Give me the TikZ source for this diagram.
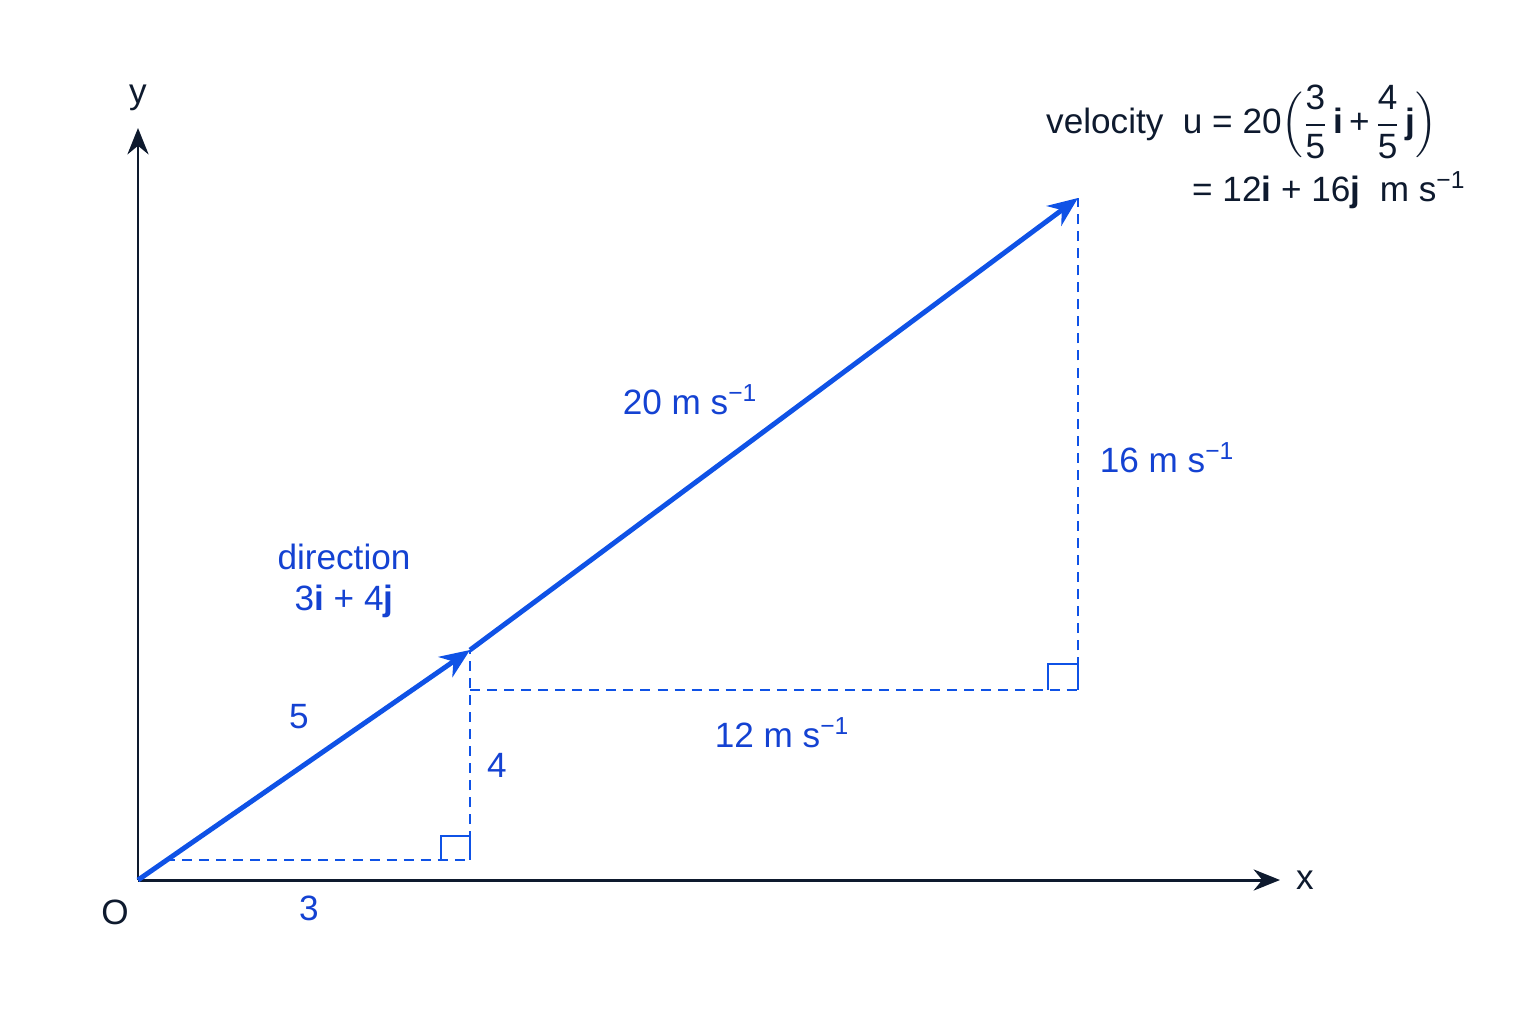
\documentclass[tikz,border=0pt]{standalone}
\usepackage{amsmath}
\usepackage{fontspec}
\setmainfont{Liberation Sans}
\usepackage{tikz}
\usetikzlibrary{arrows.meta}
\definecolor{vecblue}{HTML}{0F52E6}
\definecolor{labblue}{HTML}{1442D2}
\definecolor{axisnavy}{HTML}{0E1A2E}
\newcommand{\msunit}{m s\textsuperscript{−1}}
\newcommand{\fr}[2]{\frac{\mbox{#1}}{\mbox{#2}}}

\begin{document}
\begin{tikzpicture}[
    every node/.style={font=\fontsize{20}{23}\selectfont},
    axis/.style={draw=axisnavy, line width=1.7pt, -{Stealth[length=15pt, width=12pt]}},
    vec/.style={draw=vecblue, line width=2.8pt, -{Stealth[length=17pt, width=14pt]}},
    guide/.style={draw=vecblue, line width=1.5pt, dash pattern=on 5.7pt off 4pt},
    rightang/.style={draw=vecblue, line width=1.5pt},
    lab/.style={text=labblue}
]
    \useasboundingbox (0,0) rectangle (30.72,20.48);
    \coordinate (O) at (2.76,2.88);
    \coordinate (P) at (9.4,7.48);
    \coordinate (Q) at (21.56,16.52);
    \coordinate (A) at (9.4,3.28);
    \coordinate (B) at (21.56,6.68);
    \coordinate (H) at (3.3,3.28);
    \coordinate (xend) at (25.6,2.88);
    \coordinate (yend) at (2.76,17.92);

    \draw[axis] (O) -- (xend);
    \draw[axis] (O) -- (yend);
    \node[text=axisnavy] (xlab) at (26.1,2.88) {x};
    \node[text=axisnavy] (ylab) at (2.76,18.52) {y};
    \node[text=axisnavy] (olab) at (2.3,2.24) {O};

    \draw[guide] (H) -- (A) -- (P);
    \draw[guide] (P |- B) -- (B) -- (Q);
    \draw[rightang] ([xshift=-0.58cm]A) |- ([yshift=0.48cm]A) -- (A);
    \draw[rightang] ([xshift=-0.6cm]B) |- ([yshift=0.52cm]B) -- (B);

    \draw[vec] (O) -- (P);
    \draw[vec] (P) -- (Q);

    \node[lab] (three) at (6.18,2.32) {3};
    \node[lab] (five) at (5.98,6.14) {5};
    \node[lab] (four) at (9.94,5.18) {4};
    \node[lab, align=center] (dir) at (6.88,8.86) {direction\\3\textbf{i} + 4\textbf{j}};
    \node[lab] (speed) at (13.8,12.48) {20 \msunit};
    \node[lab] (vert) at (23.34,11.32) {16 \msunit};
    \node[lab] (horiz) at (15.64,5.82) {12 \msunit};

    \node[text=axisnavy, anchor=west] (velA) at (20.8,18.04)
        {velocity\ \ u = 20$\displaystyle\Bigl(\fr{3}{5}\,\textbf{i}\,\mbox{+}\,\fr{4}{5}\,\textbf{j}\Bigr)$};
    \node[text=axisnavy, anchor=west] (velB) at (23.72,16.68)
        {= 12\textbf{i} + 16\textbf{j}\ \ \msunit};
\end{tikzpicture}
\end{document}
